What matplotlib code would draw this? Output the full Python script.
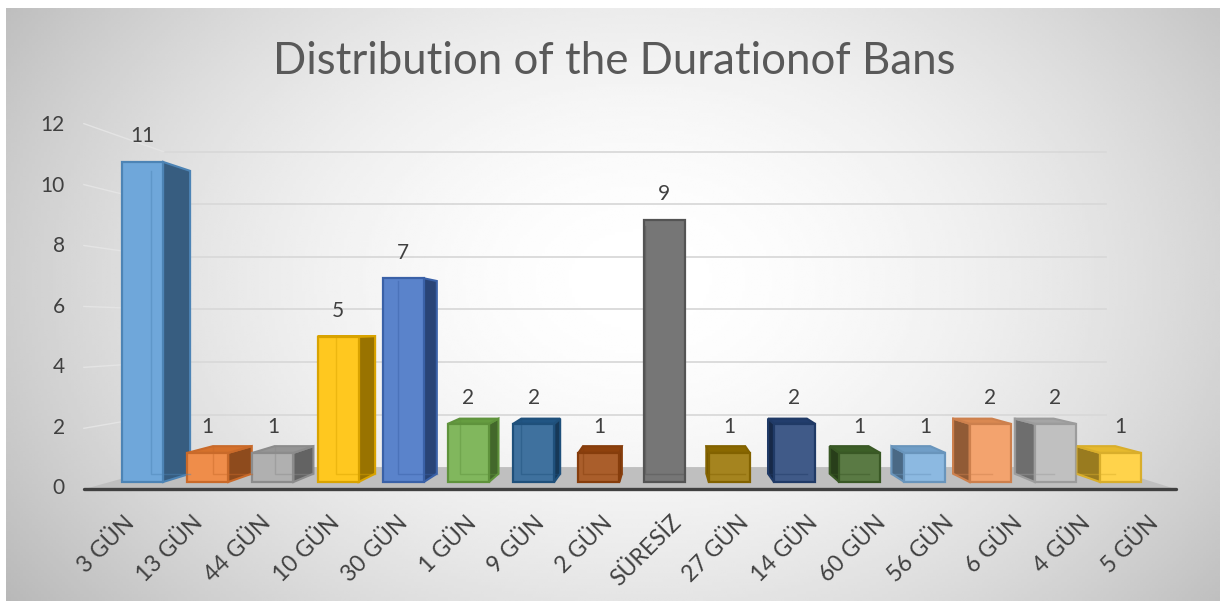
import numpy as np
import matplotlib
matplotlib.use("Agg")
import matplotlib.pyplot as plt
from matplotlib.patches import Polygon
from matplotlib.colors import to_rgb

# data
categories = ["3 GÜN", "13 GÜN", "44 GÜN", "10 GÜN", "30 GÜN", "1 GÜN", "9 GÜN", "2 GÜN",
              "SÜRESİZ", "27 GÜN", "14 GÜN", "60 GÜN", "56 GÜN", "6 GÜN", "4 GÜN", "5 GÜN"]
counts = [11, 1, 1, 5, 7, 2, 2, 1, 9, 1, 2, 1, 1, 2, 2, 1]
bar_colors = ["#5B9BD5", "#ED7D31", "#A5A5A5", "#FFC000", "#4472C4", "#70AD47", "#255E91", "#9E480E",
              "#636363", "#997300", "#264478", "#43682B", "#7CAFDD", "#F1975A", "#B7B7B7", "#FFCD33"]
y_ticks = [0, 2, 4, 6, 8, 10, 12]
title = "Distribution of the Durationof Bans"

# fake 3d geometry (pixel mapping of the front plane of the bars)
X0, DX = 142.5, 65.2
Y0, DY = 482.0, 29.1
VX, VY = 8.0, 5.29          # vanishing point
K_BAR, K_WALL, K_FRONT = 0.946, 0.903, 1.047
HW = 0.315                  # half bar width
FONT = "Lato"


def px(x):
    return (x - X0) / DX


def py(y):
    return (Y0 - y) / DY


def proj(x, y, k):
    return VX + k * (x - VX), VY + k * (y - VY)


fig = plt.figure(figsize=(12.2, 6.01), dpi=100)
ax = fig.add_axes([0, 0, 1, 1])
ax.set_xlim(px(0), px(1220))
ax.set_ylim(py(601), py(0))
ax.axis("off")

# radial background
gx, gy = np.meshgrid(np.linspace(6, 1220, 400), np.linspace(8, 601, 200))
r = np.sqrt(((gx - 640) / 700) ** 2 + ((gy - 280) / 500) ** 2)
g = 1 - 0.23 * np.clip(r, 0, 1.3) ** 1.8
ax.imshow(g, cmap="gray", vmin=0, vmax=1, extent=(px(6), px(1220), py(601), py(8)),
          aspect="auto", zorder=0, interpolation="bilinear")

# floor
xa, xb = -0.5, 15.5
floor = [proj(xa, 0, K_FRONT), proj(xb, 0, K_FRONT), proj(xb, 0, K_WALL), proj(xa, 0, K_WALL)]
ax.add_patch(Polygon(floor, closed=True, fc="#BFBFBF", ec="none", zorder=1))

# gridlines on back wall and left wall
for t in y_ticks[1:]:
    bl = proj(xa, t, K_WALL)
    br = proj(xb, t, K_WALL)
    fl = proj(xa, t, K_FRONT)
    ax.plot([bl[0], br[0]], [bl[1], br[1]], color="#D9D9D9", lw=1.3, zorder=1)
    ax.plot([fl[0], bl[0]], [fl[1], bl[1]], color="#E4E4E4", lw=1.0, zorder=1)

# axis line at floor front
a0 = proj(xa, 0, K_FRONT)
a1 = proj(xb, 0, K_FRONT)
ax.plot([a0[0], a1[0]], [a0[1], a1[1]], color="#404040", lw=2.4, solid_capstyle="round", zorder=2)

# bars
for i, (v, col) in enumerate(zip(counts, bar_colors)):
    base = np.array(to_rgb(col))
    front = base + (1 - base) * 0.12
    side = base * 0.6
    top = base * 0.9
    edge = base * 0.85
    xl, xr = i - HW, i + HW
    if i < VX - 0.01:
        xs = xr
    elif i > VX + 0.01:
        xs = xl
    else:
        xs = None
    if xs is not None:
        poly = [(xs, 0), (xs, v), proj(xs, v, K_BAR), proj(xs, 0, K_BAR)]
        ax.add_patch(Polygon(poly, closed=True, fc=side, ec=edge, lw=1.5, zorder=3))
    if v < VY:
        poly = [(xl, v), (xr, v), proj(xr, v, K_BAR), proj(xl, v, K_BAR)]
        ax.add_patch(Polygon(poly, closed=True, fc=top, ec=edge, lw=1.5, zorder=3))
    ax.bar(i, v, width=2 * HW, color=front, edgecolor=edge, linewidth=1.6, zorder=4)
    # back edges seen through the glassy front
    b0 = proj(xl, 0, K_BAR)
    b1 = proj(xr, v, K_BAR)
    ax.plot([b0[0], b0[0], b1[0]], [b1[1], b0[1], b0[1]], color=edge, lw=1.0, alpha=0.45, zorder=5)
    ax.text(i, v + 0.88, str(v), ha="center", va="center", fontsize=15,
            color="#404040", family=FONT, zorder=6)

# y tick labels (front plane)
for t in y_ticks:
    ty = proj(0, t, 1.04)[1]
    ax.text(px(65), ty, str(t), ha="right", va="center", fontsize=15, color="#404040", family=FONT)

# x tick labels
for i, c in enumerate(categories):
    tx = proj(i, 0, K_FRONT)[0]
    ax.text(tx + 6 / DX, py(512), c, rotation=45, rotation_mode="anchor", ha="right", va="top",
            fontsize=16.5, color="#404040", family=FONT)

ax.text(px(614), py(62), title, ha="center", va="center", fontsize=31.5, color="#595959",
        family=FONT)

fig.savefig("out.png", dpi=100)
